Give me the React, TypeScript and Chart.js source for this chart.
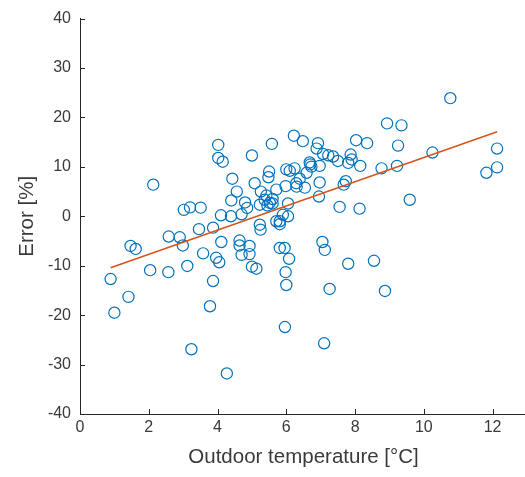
import React, { useEffect, useRef } from "react";
import { Chart, registerables } from "chart.js";

Chart.register(...registerables);

// Scatter data: outdoor temperature [°C] vs error [%]
const tempX: number[] = [
  0.89, 1.0, 1.41, 1.47, 1.62, 2.04, 2.13, 2.57, 2.58, 2.9,
  2.99, 3.02, 3.2, 3.12, 3.24, 3.46, 3.51, 3.58, 3.78, 3.87,
  3.87, 3.96, 4.05, 4.02, 4.02, 4.15, 4.1, 4.11, 4.27, 4.4,
  4.43, 4.39, 4.56, 4.64, 4.64, 4.7, 4.7, 4.8, 4.86, 4.93,
  4.93, 5.0, 5.13, 5.0, 5.08, 5.23, 5.25, 5.23, 5.26, 5.37,
  5.42, 5.5, 5.48, 5.52, 5.6, 5.58, 5.71, 5.71, 5.81, 5.81,
  5.95, 5.9, 5.98, 6.0, 6.1, 6.05, 6.05, 6.08, 5.98, 6.0,
  5.96, 6.22, 6.48, 6.24, 6.3, 6.39, 6.54, 6.59, 6.68, 6.7,
  6.92, 6.88, 6.97, 6.97, 6.95, 7.05, 7.12, 7.1, 7.07, 7.22,
  7.36, 7.5, 7.26, 7.55, 7.67, 7.73, 7.8, 7.8, 7.87, 7.9,
  8.03, 8.13, 8.15, 8.35, 8.55, 8.77, 8.87, 8.93, 9.22, 9.25,
  9.35, 9.59, 10.25, 10.77, 11.82, 12.13, 12.13, 5.45, 5.6, 6.29,
  6.73, 5.81,
];
const errorY: number[] = [
  -12.7, -19.5, -16.3, -6.0, -6.6, -10.9, 6.4, -11.3, -4.1, -4.25,
  -5.9, 1.3, 1.8, -10.05, -26.9, -2.6, 1.75, -7.5, -18.2, -13.1,
  -2.3, -8.4, -9.3, 14.45, 11.8, 11.05, 0.2, -5.2, -31.8, 3.2,
  7.6, 0.0, 5.0, -4.9, -5.9, -7.8, 0.4, 2.8, 1.7, -6.0,
  -7.65, -10.2, -10.6, 12.3, 6.7, -1.7, -2.7, 2.35, 5.0, 3.35,
  4.2, 9.05, 7.9, 2.7, 2.6, 14.65, 5.4, -1.0, -1.0, -6.4,
  -6.4, 0.3, 6.1, 9.5, 9.2, 2.6, 0.0, -8.6, -11.3, -13.9,
  -22.4, 16.3, 15.2, 9.7, 6.0, 7.6, 5.8, 8.8, 10.9, 10.5,
  14.8, 13.7, 10.2, 6.85, 4.0, -5.2, -6.8, -25.7, 12.6, 12.35,
  12.1, 11.2, -14.7, 1.9, 6.4, 7.1, -9.6, 10.8, 12.5, 11.5,
  15.4, 1.55, 10.2, 14.8, -9.0, 9.7, -15.1, 18.8, 10.2, 14.3,
  18.4, 3.35, 12.9, 23.9, 8.8, 9.9, 13.7, 2.2, 3.5, 6.7,
  10.05, -1.6,
];

// Fitted line endpoints
const fitX: number[] = [0.89, 12.13];
const fitY: number[] = [-10.4, 17.1];

const xTicks: number[] = [0, 2, 4, 6, 8, 10, 12];
const yTicks: number[] = [-40, -30, -20, -10, 0, 10, 20, 30, 40];

const AXIS = "#262626";
const LABEL = "#3a3a3a";
const FONT = "'Liberation Sans', Arial, sans-serif";

const inwardTicks = {
  id: "inwardTicks",
  afterDraw(chart: any) {
    const { ctx, scales, chartArea } = chart;
    const xs = scales.x;
    const ys = scales.y;
    ctx.save();
    ctx.strokeStyle = AXIS;
    ctx.lineWidth = 1;
    ctx.beginPath();
    for (const v of xTicks) {
      const px = Math.round(xs.getPixelForValue(v)) + 0.5;
      ctx.moveTo(px, chartArea.bottom);
      ctx.lineTo(px, chartArea.bottom - 5);
    }
    for (const v of yTicks) {
      const py = Math.round(ys.getPixelForValue(v)) + 0.5;
      ctx.moveTo(chartArea.left, py);
      ctx.lineTo(chartArea.left + 5, py);
    }
    ctx.stroke();
    ctx.restore();
  },
};

export default function App() {
  const ref = useRef<HTMLCanvasElement | null>(null);

  useEffect(() => {
    if (!ref.current) return;
    const points = tempX.map((x, i) => ({ x, y: errorY[i] }));
    const fit = fitX.map((x, i) => ({ x, y: fitY[i] }));
    const chart = new Chart(ref.current, {
      type: "scatter",
      data: {
        datasets: [
          {
            type: "line",
            data: fit,
            borderColor: "#D95319",
            borderWidth: 1.5,
            pointRadius: 0,
            fill: false,
          } as any,
          {
            data: points,
            borderColor: "#0072BD",
            backgroundColor: "rgba(0,0,0,0)",
            pointRadius: 5.6,
            pointBorderWidth: 1.2,
            pointBackgroundColor: "rgba(0,0,0,0)",
            pointBorderColor: "#0072BD",
          },
        ],
      },
      options: {
        animation: false,
        responsive: false,
        maintainAspectRatio: false,
        layout: { autoPadding: false, padding: { top: 16, right: 1, left: 0, bottom: 0 } },
        plugins: {
          legend: { display: false },
          tooltip: { enabled: false },
        },
        scales: {
          x: {
            type: "linear",
            min: 0,
            max: 13,
            afterBuildTicks: (s: any) => {
              s.ticks = xTicks.map((v) => ({ value: v }));
            },
            afterFit: (s: any) => {
              s.height = 63;
              s.paddingLeft = 0;
              s.paddingRight = 0;
            },
            grid: { display: false, drawTicks: false },
            border: { display: true, color: AXIS, width: 1 },
            ticks: {
              color: LABEL,
              padding: 4,
              maxRotation: 0,
              font: { family: FONT, size: 16 },
            },
            title: {
              display: true,
              text: "Outdoor temperature [°C]",
              color: LABEL,
              font: { family: FONT, size: 20.5 },
              padding: { top: 0, bottom: 7 },
            },
          },
          y: {
            type: "linear",
            min: -40,
            max: 40,
            afterBuildTicks: (s: any) => {
              s.ticks = yTicks.map((v) => ({ value: v }));
            },
            afterFit: (s: any) => {
              s.width = 80;
            },
            grid: { display: false, drawTicks: false },
            border: { display: true, color: AXIS, width: 1 },
            ticks: {
              color: LABEL,
              padding: 9,
              font: { family: FONT, size: 16 },
            },
            title: {
              display: true,
              text: "Error [%]",
              color: LABEL,
              font: { family: FONT, size: 20.5 },
              padding: { top: 15, bottom: 0 },
            },
          },
        },
      },
      plugins: [inwardTicks],
    });
    return () => chart.destroy();
  }, []);

  return (
    <div
      style={{
        position: "fixed",
        left: 0,
        top: 0,
        width: 525,
        height: 477,
        overflow: "hidden",
        background: "#fff",
      }}
    >
      <canvas ref={ref} width={528} height={477} style={{ display: "block" }} />
    </div>
  );
}
